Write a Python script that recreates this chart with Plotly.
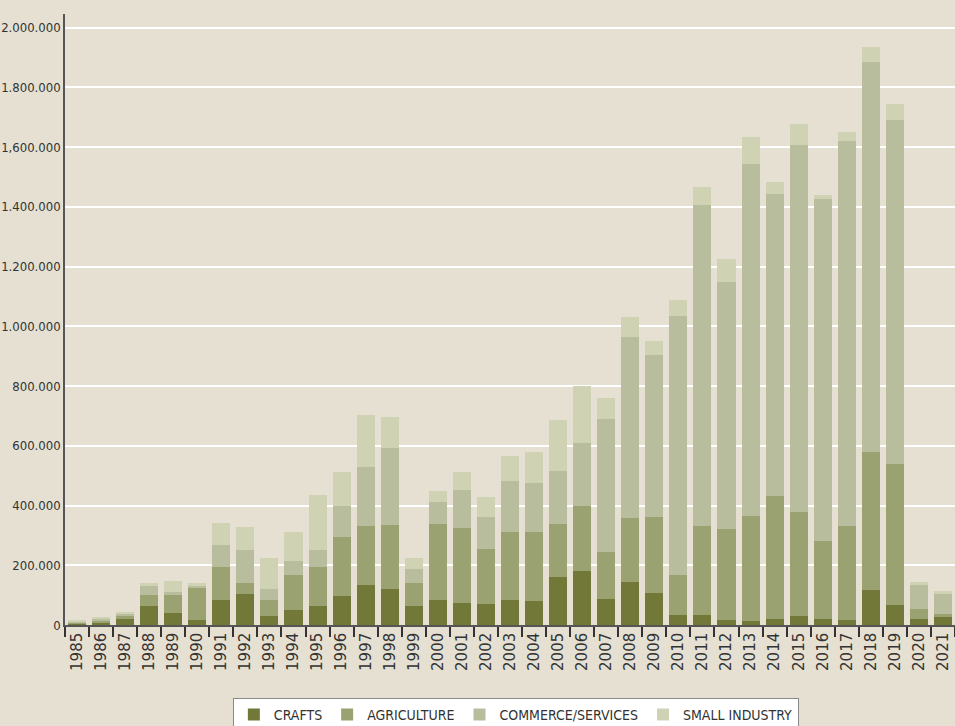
import plotly.graph_objects as go

years = [str(y) for y in range(1985, 2022)]

crafts = [6000, 8000, 23000, 65000, 40000, 18000, 84000, 105000, 29000, 51000,
          62000, 98000, 135000, 120000, 65000, 84000, 73000, 69000, 84000, 80000,
          160000, 182000, 87000, 144000, 107000, 35000, 35000, 17000, 12000, 20000,
          31000, 20000, 17000, 118000, 67000, 20000, 27000]
agriculture = [4000, 7000, 6000, 36000, 59000, 105000, 109000, 37000, 55000, 116000,
               131000, 197000, 196000, 214000, 77000, 254000, 252000, 187000, 227000, 231000,
               178000, 218000, 159000, 215000, 254000, 133000, 297000, 306000, 353000, 412000,
               347000, 260000, 315000, 460000, 472000, 32000, 11000]
commerce = [3000, 6000, 7000, 29000, 10000, 7000, 76000, 110000, 36000, 49000,
            59000, 105000, 199000, 259000, 47000, 73000, 128000, 105000, 170000, 166000,
            178000, 210000, 443000, 606000, 544000, 866000, 1076000, 824000, 1179000, 1012000,
            1230000, 1147000, 1290000, 1307000, 1151000, 81000, 66000]
small_industry = [2000, 3000, 8000, 11000, 40000, 11000, 72000, 76000, 106000, 95000,
                  183000, 112000, 172000, 105000, 37000, 38000, 59000, 67000, 84000, 102000,
                  169000, 190000, 72000, 66000, 47000, 55000, 59000, 79000, 90000, 39000,
                  69000, 14000, 29000, 49000, 55000, 11000, 11000]

tick_vals = [0, 200000, 400000, 600000, 800000, 1000000, 1200000, 1400000, 1600000, 1800000, 2000000]
tick_text = ["0", "200.000", "400.000", "600.000", "800.000", "1.000.000", "1.200.000",
             "1.400.000", "1,600.000", "1.800.000", "2.000.000"]

series = [
    ("CRAFTS", crafts, "#727838"),
    ("AGRICULTURE", agriculture, "#9AA272"),
    ("COMMERCE/SERVICES", commerce, "#B8BD9E"),
    ("SMALL INDUSTRY", small_industry, "#CFD3B4"),
]

fig = go.Figure()
for name, vals, col in series:
    fig.add_trace(go.Bar(x=years, y=vals, name=name, marker=dict(color=col, line=dict(width=0))))

BG = "#E5E0D2"
narrow = "DejaVu Sans Condensed, DejaVu Sans, sans-serif"

fig.update_layout(
    barmode="stack",
    bargap=0.25,
    width=955, height=745,
    margin=dict(l=65, r=0, t=14, b=120),
    paper_bgcolor=BG,
    plot_bgcolor=BG,
    showlegend=True,
    legend=dict(
        orientation="h",
        x=0.1886, xanchor="left",
        y=-0.1195, yanchor="top",
        bgcolor="white",
        bordercolor="#8a8a8a",
        borderwidth=1,
        font=dict(family=narrow, size=14, color="#333333"),
        traceorder="normal",
    ),
    xaxis=dict(
        type="category",
        tickangle=-90,
        tickfont=dict(family="DejaVu Sans, sans-serif", size=15, color="#333333"),
        ticks="outside",
        tickson="boundaries",
        ticklen=10,
        tickcolor="#333333",
        tickwidth=1.5,
        showline=True,
        linecolor="#555555",
        linewidth=1.5,
        showgrid=False,
        automargin=False,
    ),
    yaxis=dict(
        range=[0, 2046000],
        tickvals=tick_vals,
        ticktext=tick_text,
        tickfont=dict(family=narrow, size=13, color="#333333"),
        showgrid=True,
        gridcolor="#FFFFFF",
        gridwidth=1.5,
        zeroline=False,
        showline=True,
        linecolor="#555555",
        linewidth=1.5,
        ticks="",
        automargin=False,
    ),
)

fig.write_html(
    "out.html",
    config={"displayModeBar": False},
    post_script="document.body.style.margin='0';document.body.style.background='" + BG + "';document.body.style.overflow='hidden';",
)
